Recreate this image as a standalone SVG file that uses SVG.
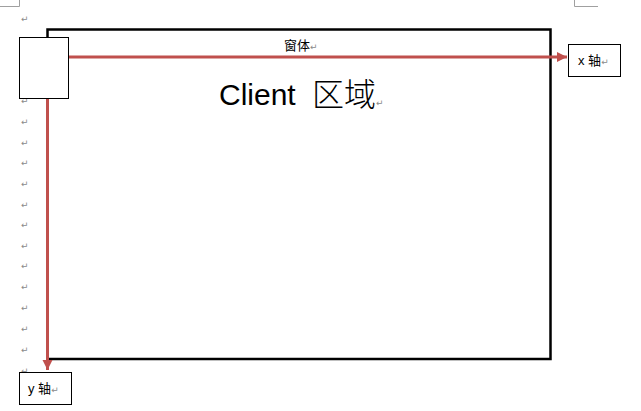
<svg xmlns="http://www.w3.org/2000/svg" width="641" height="411" viewBox="0 0 641 411">
<style>
.pm{font-family:"DejaVu Sans","Noto Sans CJK SC",sans-serif;font-size:9px;fill:#8a8a8a}
.lbl{font-family:"Liberation Sans","Noto Sans CJK SC",sans-serif;font-size:13px;fill:#000}
.box{fill:#fff;stroke:#000;stroke-width:1}
.axis{stroke:#c0504d;stroke-width:3;fill:none}
.crop{stroke:#a0a0a0;stroke-width:1;fill:none}
</style>
<defs>
<marker id="ah" markerUnits="userSpaceOnUse" markerWidth="12" markerHeight="12" refX="10" refY="5" orient="auto">
<path d="M0,0 L10,5 L0,10 Z" fill="#c0504d"/>
</marker>
</defs>
<rect width="641" height="411" fill="#fff"/>
<path class="crop" d="M0,6.5 H19.5 V0 M574.5,0 V6.5 H598"/>
<g id="paragraph-marks">
<text class="pm" x="21" y="22">↵</text>
<text class="pm" x="21" y="104">↵</text>
<text class="pm" x="21" y="125">↵</text>
<text class="pm" x="21" y="146">↵</text>
<text class="pm" x="21" y="166">↵</text>
<text class="pm" x="21" y="187">↵</text>
<text class="pm" x="21" y="208">↵</text>
<text class="pm" x="21" y="228">↵</text>
<text class="pm" x="21" y="249">↵</text>
<text class="pm" x="21" y="269">↵</text>
<text class="pm" x="21" y="290">↵</text>
<text class="pm" x="21" y="311">↵</text>
<text class="pm" x="21" y="332">↵</text>
<text class="pm" x="21" y="353">↵</text>
<text class="pm" x="21" y="374">↵</text>
</g>
<g id="window">
<rect x="47.5" y="29.5" width="503" height="329.5" fill="#fff" stroke="#000" stroke-width="2.5"/>
<text class="lbl" x="284" y="50">窗体<tspan class="pm">↵</tspan></text>
<text x="219" y="105" font-family="'Liberation Sans','Noto Sans CJK SC',sans-serif" font-size="30" fill="#000">Client<tspan x="312" y="106" font-family="'Noto Sans CJK SC',sans-serif" font-weight="300" font-size="32">区域</tspan><tspan class="pm">↵</tspan></text>
</g>
<g id="connectors">
<line class="axis" x1="68" y1="57" x2="567" y2="57" marker-end="url(#ah)"/>
<line class="axis" x1="47.5" y1="98" x2="47.5" y2="370" marker-end="url(#ah)"/>
</g>
<g id="origin">
<rect class="box" x="19.5" y="37.5" width="49" height="61"/>
</g>
<g id="x-axis">
<rect class="box" x="568.5" y="44.5" width="52" height="32"/>
<text class="lbl" x="578" y="65">x 轴<tspan class="pm">↵</tspan></text>
</g>
<g id="y-axis">
<rect class="box" x="19.5" y="372.5" width="52" height="32"/>
<text class="lbl" x="28" y="393">y 轴<tspan class="pm">↵</tspan></text>
</g>
</svg>
